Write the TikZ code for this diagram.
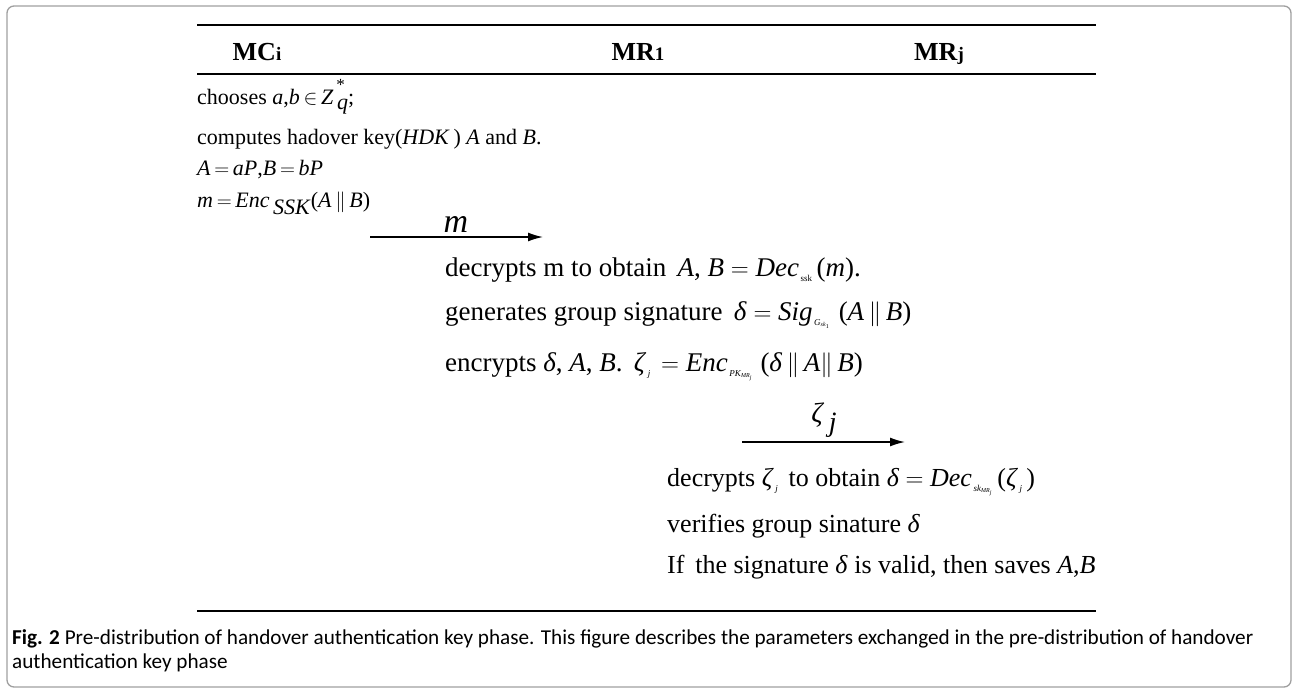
\documentclass[tikz,border=0pt]{standalone}
\usepackage{fontspec}
\setmainfont{Liberation Serif}
\newfontfamily\capfont{Carlito}
\usetikzlibrary{arrows.meta}
\newcommand{\mi}[1]{\textit{#1}}
\newcommand{\sbx}[1]{\raisebox{-0.45ex}{\fontsize{9}{9}\selectfont #1}}
\newcommand{\ssb}[1]{\textsubscript{\fontsize{6}{6}\selectfont #1}}
\begin{document}
\begin{tikzpicture}[x=1pt,y=-1pt,
  rulethick/.style={line width=2.4pt},
  rulethin/.style={line width=1.2pt},
  hdr/.style={font=\fontsize{26}{26}\selectfont\bfseries, anchor=base, inner sep=0},
  lefttxt/.style={font=\fontsize{22}{22}\selectfont, anchor=base west, inner sep=0},
  midtxt/.style={font=\fontsize{27}{27}\selectfont, anchor=base west, inner sep=0},
  righttxt/.style={font=\fontsize{26}{26}\selectfont, anchor=base west, inner sep=0},
  msg/.style={line width=1.5pt, -{Latex[length=15pt,width=9pt]}},
  captxt/.style={font=\capfont\fontsize{21.2}{21.2}\selectfont, anchor=base west, inner sep=0}
]
\useasboundingbox (0,0) rectangle (1294,689);
\draw[gray!75, line width=1.3pt, rounded corners=7pt] (7,6) rectangle (1291,687);

% rules
\coordinate (t1) at (197,25); \coordinate (t2) at (1096,25);
\coordinate (h1) at (197,74); \coordinate (h2) at (1096,74);
\coordinate (b1) at (197,611); \coordinate (b2) at (1096,611);
\draw[rulethick] (t1) -- (t2);
\draw[rulethin] (h1) -- (h2);
\draw[rulethick] (b1) -- (b2);

% headers
\node[hdr] (mc) at (257,60) {MC{\fontsize{19}{19}\selectfont i}};
\node[hdr] (mr1) at (638,60) {MR{\fontsize{19}{19}\selectfont 1}};
\node[hdr] (mrj) at (939,60) {MR{\fontsize{19}{19}\selectfont j}};

% left column
\node[lefttxt] (l1) at (197,104) {chooses \mi{a},\mi{b}\,$\in$\,\mi{Z}\rlap{\raisebox{1.3ex}{\fontsize{17}{17}\selectfont\,*}}\raisebox{-0.55ex}{\,\mi{q}};};
\node[lefttxt] (l2) at (197,144) {computes hadover key(\mi{HDK}\,) \mi{A} and \mi{B}.};
\node[lefttxt] (l3) at (197,175) {\mi{A}\,$=$\,\mi{aP},\mi{B}\,$=$\,\mi{bP}};
\node[lefttxt] (l4) at (197,207) {\mi{m}\,$=$\,\mi{Enc}\,\raisebox{-0.75ex}{\mi{SSK}}(\mi{A}\,$\|$\,\mi{B})};

% message m
\coordinate (a1s) at (370,237); \coordinate (a1e) at (543,237);
\draw[msg] (a1s) -- (a1e);
\node[font=\fontsize{34}{34}\selectfont, inner sep=0] (mlab) at (456,224) {\mi{m}};

% middle column
\node[midtxt] (m1) at (445,276) {decrypts m to obtain \,\mi{A}, \mi{B} $=$ \mi{Dec}\sbx{\,\textsc{ssk}}\,(\mi{m}).};
\node[midtxt] (m2) at (445,320) {generates group signature \,\mi{δ} $=$ \mi{Sig}\sbx{\,\mi{G}\ssb{\mi{sk}\ssb{1}}}\hspace{9pt}(\mi{A}\,$\|$\,\mi{B})};
\node[midtxt] (m3) at (445,371) {encrypts \mi{δ}, \mi{A}, \mi{B}. \,\mi{ζ}\sbx{\,\mi{j}}\hspace{4pt} $=$ \mi{Enc}\sbx{\,\mi{PK}\ssb{\mi{MR}\ssb{\mi{j}}}}\hspace{8pt}(\mi{δ}\,$\|$\,\mi{A}$\|$\,\mi{B})};

% message zeta_j
\coordinate (a2s) at (742,442); \coordinate (a2e) at (905,442);
\draw[msg] (a2s) -- (a2e);
\node[font=\fontsize{28}{28}\selectfont, inner sep=0] (zlab) at (824,420) {\mi{ζ}\,\raisebox{-0.7ex}{\mi{j}}};

% right column
\node[righttxt] (r1) at (667,486) {decrypts \mi{ζ}\sbx{\,\mi{j}} \,to obtain \mi{δ} $=$ \mi{Dec}\sbx{\,\mi{sk}\ssb{\mi{MR}\ssb{\mi{j}}}}\hspace{5pt}(\mi{ζ}\sbx{\,\mi{j}}\,)};
\node[righttxt] (r2) at (667,532) {verifies group sinature \mi{δ}};
\node[righttxt] (r3) at (667,573) {If \,the signature \mi{δ} is valid, then saves \mi{A},\mi{B}};

% caption
\node[captxt] (c1) at (12,644) {\textbf{Fig. 2} Pre-distribution of handover authentication key phase. This figure describes the parameters exchanged in the pre-distribution of handover};
\node[captxt] (c2) at (12,668) {authentication key phase};
\end{tikzpicture}
\end{document}
